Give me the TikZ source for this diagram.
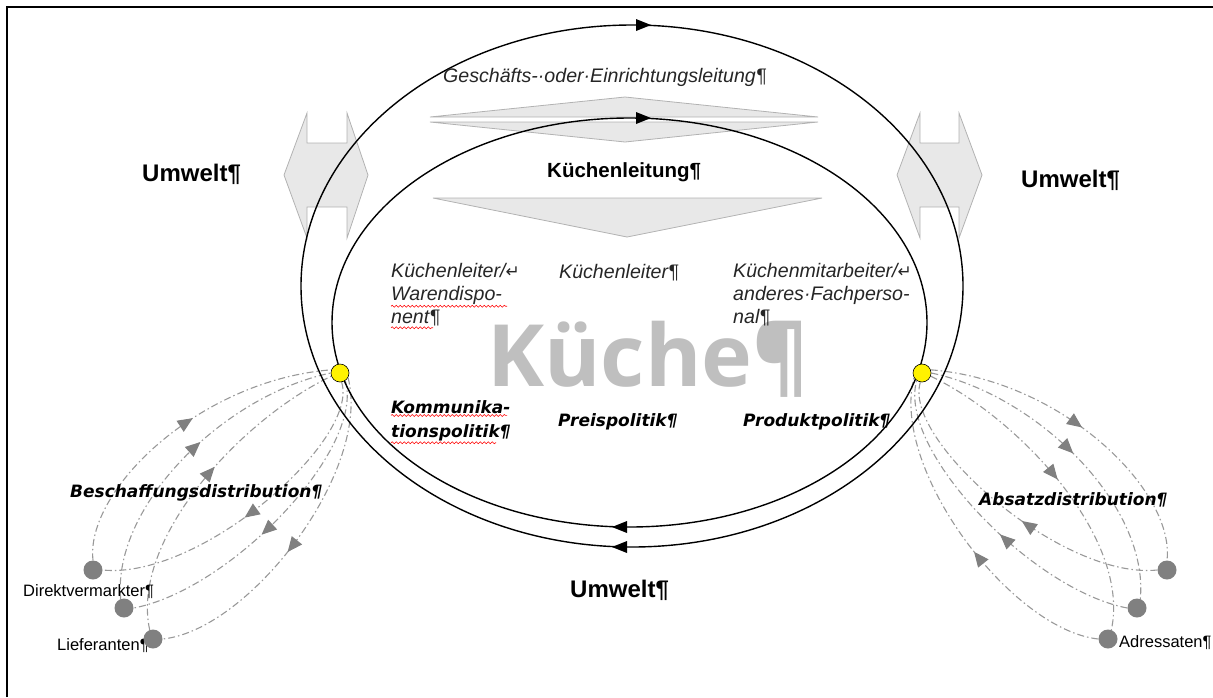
\documentclass[tikz,border=0pt]{standalone}
\usepackage{fontspec}
\setmainfont{Liberation Sans}
\newfontfamily\dvs{DejaVu Sans}
\newfontfamily\osans{Open Sans}
\usetikzlibrary{arrows.meta,decorations.markings,decorations.pathmorphing}
\pgfdeclarelayer{bg}
\pgfsetlayers{bg,main}
\begin{document}
\begin{tikzpicture}[x=1pt,y=-1pt,
  hexarrow/.style={fill=black!9, draw=black!30, line width=0.8pt},
  orbit/.style={draw=black, line width=1.4pt},
  flow/.style={draw=black!40, line width=1.1pt, dash pattern=on 7pt off 3pt on 1.5pt off 3pt},
  gdot/.style={circle, fill=black!50, minimum size=19pt, inner sep=0pt},
  ydot/.style={circle, fill=yellow, draw=black, line width=0.6pt, minimum size=18pt, inner sep=0pt},
  flowarrow/.style={postaction={decorate}, decoration={markings, mark=at position #1 with {\arrow{Triangle[length=15pt,width=13pt,color=black!50]}}}},
  itl/.style={font=\fontsize{19.6}{23}\selectfont\itshape, text=black!85, inner sep=0pt, anchor=base west},
  bit/.style={font=\dvs\fontsize{17}{23}\selectfont\bfseries\itshape, inner sep=0pt, anchor=base west},
  umw/.style={font=\fontsize{24}{28}\selectfont\bfseries, inner sep=0pt, anchor=base west},
  small/.style={font=\fontsize{16.5}{18}\selectfont, inner sep=0pt, anchor=base west},
  spell/.style={draw=red, line width=0.6pt, decorate, decoration={snake, amplitude=1pt, segment length=4pt}}
]
\useasboundingbox (0,0) rectangle (1213,697);
% frame
\draw[line width=2.4pt] (7,697) -- (7,7) -- (1213,7);
% side double arrows
\draw[hexarrow] (307,113) -- (307,143) -- (347,143) -- (347,113) -- (368,175) -- (347,238) -- (347,207) -- (307,207) -- (307,238) -- (284,175) -- cycle;
\draw[hexarrow] (920,113) -- (920,143) -- (959,143) -- (959,113) -- (982,175) -- (959,238) -- (959,207) -- (920,207) -- (920,238) -- (897,175) -- cycle;
% top chevrons
\draw[hexarrow] (430,117) -- (625,97) -- (818,117) -- cycle;
\draw[hexarrow] (430,122) -- (818,122) -- (625,142) -- cycle;
\draw[hexarrow] (433,198) -- (822,198) -- (627,237) -- cycle;
% big Küche
\node[font=\osans\bfseries\fontsize{86}{90}\selectfont, text=black!25, inner sep=0pt, anchor=base west] (kueche) at (487,386) {Küche¶};
% ellipses
\draw[orbit] (632,286) ellipse [x radius=331pt, y radius=261pt];
\draw[orbit] (629.5,322.5) ellipse [x radius=297.5pt, y radius=204.5pt];
\fill (651,25) -- (636,19) -- (636,31) -- cycle;
\fill (651,118) -- (636,112) -- (636,124) -- cycle;
\fill (612,527) -- (627,521) -- (627,533) -- cycle;
\fill (612,547) -- (627,541) -- (627,553) -- cycle;
% texts
\node[itl] (gel) at (443,82) {Geschäfts-·oder·Einrichtungsleitung¶};
\node[font=\fontsize{20.5}{24}\selectfont\bfseries, inner sep=0pt, anchor=base west] (kl) at (547,177) {Küchenleitung¶};
\node[umw] (uml) at (142,181) {Umwelt¶};
\node[umw] (umr) at (1021,187) {Umwelt¶};
\node[umw] (umb) at (570,597) {Umwelt¶};
\node[itl] (a1) at (391,277) {Küchenleiter/{\dvs\upshape\fontsize{17}{17}\selectfont ↵}};
\node[itl] (a2) at (391,300) {Warendispo-};
\node[itl] (a3) at (391,323) {nent¶};
\node[itl] (b1) at (559,278) {Küchenleiter¶};
\node[itl] (c1) at (733,277) {Küchenmitarbeiter/{\dvs\upshape\fontsize{17}{17}\selectfont ↵}};
\node[itl] (c2) at (733,300) {anderes·Fachperso-};
\node[itl] (c3) at (733,323) {nal¶};
\node[bit] (k1) at (391,413) {Kommunika-};
\node[bit] (k2) at (391,437) {tionspolitik¶};
\node[bit] (pp) at (558,426) {Preispolitik¶};
\node[bit] (pr) at (743,426) {Produktpolitik¶};
\node[bit] (bd) at (70,497) {Beschaffungsdistribution¶};
\node[bit] (ad) at (979,505) {Absatzdistribution¶};
\node[small] (dv) at (23,596) {Direktvermarkter¶};
\node[small] (lf) at (57,650) {Lieferanten¶};
\node[small] (as) at (1119,647) {Adressaten¶};
% spelling marks
\draw[spell] (a2.south west) ++(0,2) -- ++(116,0);
\draw[spell] (a3.south west) ++(0,2) -- ++(42,0);
\draw[spell] (k1.south west) ++(0,2) -- ++(116,0);
\draw[spell] (k2.south west) ++(0,2) -- ++(105,0);
% junction points and partners
\node[ydot] (Ly) at (340,373) {};
\node[ydot] (Ry) at (922,373) {};
\node[gdot] (d1) at (93,570) {};
\node[gdot] (d2) at (124,608) {};
\node[gdot] (d3) at (153,639) {};
\node[gdot] (r1) at (1167,570) {};
\node[gdot] (r2) at (1137,608) {};
\node[gdot] (r3) at (1108,639) {};
\begin{pgfonlayer}{bg}
% left: supply
\draw[flow, flowarrow=0.55] (d1.north) .. controls (85,490) and (200,380) .. (Ly.160);
\draw[flow, flowarrow=0.55] (d2.110) .. controls (112,505) and (225,395) .. (Ly.180);
\draw[flow, flowarrow=0.55] (d3.110) .. controls (130,540) and (240,420) .. (Ly.200);
\draw[flow, flowarrow=0.53] (Ly.-80) .. controls (360,440) and (200,580) .. (d1.east);
\draw[flow, flowarrow=0.55] (Ly.-55) .. controls (365,450) and (230,590) .. (d2.east);
\draw[flow, flowarrow=0.55] (Ly.-30) .. controls (372,470) and (250,630) .. (d3.east);
% right: sales
\draw[flow, flowarrow=0.5] (Ry.20) .. controls (1062,380) and (1175,490) .. (r1.north);
\draw[flow, flowarrow=0.5] (Ry.0) .. controls (1037,395) and (1149,505) .. (r2.70);
\draw[flow, flowarrow=0.5] (Ry.-20) .. controls (1022,420) and (1131,540) .. (r3.70);
\draw[flow, flowarrow=0.45] (r1.west) .. controls (1062,580) and (902,440) .. (Ry.-100);
\draw[flow, flowarrow=0.45] (r2.west) .. controls (1032,590) and (897,450) .. (Ry.-125);
\draw[flow, flowarrow=0.45] (r3.west) .. controls (1012,630) and (890,470) .. (Ry.-150);
\end{pgfonlayer}
\end{tikzpicture}
\end{document}
